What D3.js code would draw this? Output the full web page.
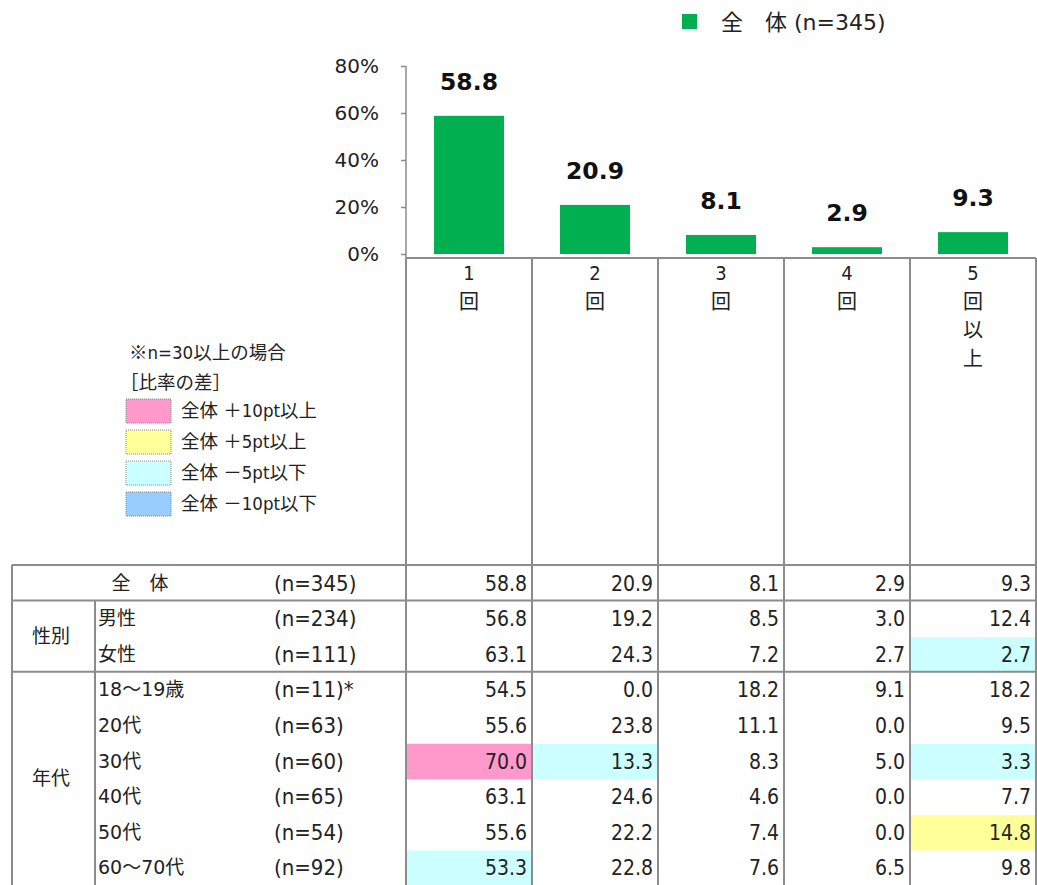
<!DOCTYPE html>
<html>
<head>
<meta charset="utf-8">
<script src="https://cdn.jsdelivr.net/npm/d3@7"></script>
<style>
body { margin: 0; background: #fff; }
svg { display: block; }
text { white-space: pre; }
</style>
</head>
<body>
<div id="canvas"></div>
<script>
const width = 1037;
const height = 885;

// data
const categories = ["1回", "2回", "3回", "4回", "5回以上"];
const totalN = 345;
const totalValues = [58.8, 20.9, 8.1, 2.9, 9.3];
const yTicks = [0, 20, 40, 60, 80];
const groupNames = ["性別", "年代"];
const rowLabels = ["男性", "女性", "18〜19歳", "20代", "30代", "40代", "50代", "60〜70代"];
const rowGroups = ["性別", "性別", "年代", "年代", "年代", "年代", "年代", "年代"];
const rowCounts = [234, 111, 11, 63, 60, 65, 54, 92];
const rowValues = [
    [56.8, 19.2, 8.5, 3.0, 12.4],
    [63.1, 24.3, 7.2, 2.7, 2.7],
    [54.5, 0.0, 18.2, 9.1, 18.2],
    [55.6, 23.8, 11.1, 0.0, 9.5],
    [70.0, 13.3, 8.3, 5.0, 3.3],
    [63.1, 24.6, 4.6, 0.0, 7.7],
    [55.6, 22.2, 7.4, 0.0, 14.8],
    [53.3, 22.8, 7.6, 6.5, 9.8]
];
const legendLabels = ["全体 ＋10pt以上", "全体 ＋5pt以上", "全体 －5pt以下", "全体 －10pt以下"];
const legendColors = ["#ff99cc", "#ffff99", "#ccffff", "#99ccff"];

const narrow = "'DejaVu Sans Condensed', 'Noto Sans CJK JP', sans-serif";
const wide = "'DejaVu Sans', 'Noto Sans CJK JP', sans-serif";
const cjk = "'Noto Sans CJK JP', sans-serif";
const lineColor = "#8c8c8c";

const svg = d3.select("#canvas")
    .append("svg")
    .attr("width", width)
    .attr("height", height);

svg.append("rect")
    .attr("width", width)
    .attr("height", height)
    .attr("fill", "white");

// scales
const x = d3.scaleBand().domain(categories).range([406, 1036]);
const y = d3.scaleLinear().domain([0, 80]).range([254, 66]);
const rowY = d3.scaleBand().domain(d3.range(rowLabels.length + 1)).range([565, 885]);

// top legend
svg.append("rect")
    .attr("x", 682).attr("y", 14)
    .attr("width", 15).attr("height", 15)
    .attr("fill", "#00b050");
svg.append("text")
    .attr("x", 721).attr("y", 30)
    .attr("font-family", wide)
    .attr("font-size", 22)
    .attr("fill", "#222")
    .text("全\u3000体 (n=" + totalN + ")");

// y axis
const yAxis = svg.append("g")
    .attr("transform", "translate(406,0)")
    .call(d3.axisLeft(y).tickValues(yTicks).tickFormat(d => d + "%").tickSize(5).tickPadding(22).tickSizeOuter(0));
yAxis.select(".domain").remove();
yAxis.selectAll(".tick line").attr("stroke", lineColor).attr("stroke-width", 1.5);
yAxis.selectAll(".tick text")
    .attr("font-family", "'DejaVu Sans', sans-serif")
    .attr("font-size", 20)
    .attr("fill", "#222");
svg.append("line")
    .attr("x1", 406).attr("x2", 406)
    .attr("y1", y(80)).attr("y2", 258)
    .attr("stroke", lineColor).attr("stroke-width", 1.5);

// bars
const barW = x.bandwidth() * 0.556;
svg.selectAll(".bar")
    .data(totalValues)
    .join("rect")
    .attr("class", "bar")
    .attr("x", (d, i) => x(categories[i]) + (x.bandwidth() - barW) / 2)
    .attr("y", d => y(d))
    .attr("width", barW)
    .attr("height", d => y(0) - y(d))
    .attr("fill", "#00b050");

svg.selectAll(".barLabel")
    .data(totalValues)
    .join("text")
    .attr("class", "barLabel")
    .attr("x", (d, i) => x(categories[i]) + x.bandwidth() / 2)
    .attr("y", d => y(d) - 26)
    .attr("text-anchor", "middle")
    .attr("font-family", "'DejaVu Sans', sans-serif")
    .attr("font-weight", "bold")
    .attr("font-size", 23.5)
    .attr("fill", "#111")
    .text(d => d.toFixed(1));

// header with category labels written top to bottom
categories.forEach(function(c) {
    Array.from(c).forEach(function(ch, j) {
        svg.append("text")
            .attr("x", x(c) + x.bandwidth() / 2)
            .attr("y", 280 + j * 28.5)
            .attr("text-anchor", "middle")
            .attr("font-family", narrow)
            .attr("font-size", 20)
            .attr("fill", "#222")
            .text(ch);
    });
});

// left legend
const note = svg.append("text")
    .attr("x", 129).attr("y", 359)
    .attr("font-family", narrow).attr("font-size", 18.5).attr("fill", "#222");
note.append("tspan").attr("font-family", cjk).text("※");
note.append("tspan").text("n=30以上の場合");
svg.append("text")
    .attr("x", 120).attr("y", 389)
    .attr("font-family", cjk).attr("font-size", 18.5).attr("fill", "#222")
    .text("［比率の差］");
legendLabels.forEach(function(l, i) {
    svg.append("rect")
        .attr("x", 126).attr("y", 399 + i * 31)
        .attr("width", 45).attr("height", 24)
        .attr("fill", legendColors[i])
        .attr("stroke", "#888")
        .attr("stroke-dasharray", "1,1");
    svg.append("text")
        .attr("x", 181).attr("y", 399 + i * 31 + 18)
        .attr("font-family", narrow).attr("font-size", 18.5).attr("fill", "#222")
        .text(l);
});

// highlight rule
function highlight(v, total, n) {
    if (n < 30) return null;
    const diff = v - total;
    if (diff >= 10) return legendColors[0];
    if (diff >= 5) return legendColors[1];
    if (diff <= -10) return legendColors[3];
    if (diff <= -5) return legendColors[2];
    return null;
}

// table rows: row 0 is total
const tableRows = [{ label: "全\u3000体", n: totalN, values: totalValues }]
    .concat(rowLabels.map((l, i) => ({ label: l, n: rowCounts[i], values: rowValues[i], group: rowGroups[i] })));

tableRows.forEach(function(r, ri) {
    const top = rowY(ri);
    const mid = top + rowY.bandwidth() / 2;
    r.values.forEach(function(v, ci) {
        const fill = ri > 0 ? highlight(v, totalValues[ci], r.n) : null;
        if (fill) {
            svg.append("rect")
                .attr("x", x(categories[ci]))
                .attr("y", top + 1)
                .attr("width", x.bandwidth())
                .attr("height", rowY.bandwidth())
                .attr("fill", fill);
        }
        svg.append("text")
            .attr("x", x(categories[ci]) + x.bandwidth() - 5)
            .attr("y", mid + 8)
            .attr("text-anchor", "end")
            .attr("font-family", narrow)
            .attr("font-size", 21)
            .attr("fill", "#222")
            .text(v.toFixed(1));
    });
    svg.append("text")
        .attr("x", ri === 0 ? 140 : 98)
        .attr("y", mid + 7)
        .attr("text-anchor", ri === 0 ? "middle" : "start")
        .attr("font-family", wide)
        .attr("font-size", 19)
        .attr("fill", "#222")
        .text(r.label);
    svg.append("text")
        .attr("x", 274)
        .attr("y", mid + 8)
        .attr("font-family", narrow)
        .attr("font-size", 22)
        .attr("fill", "#222")
        .text("(n=" + r.n + ")" + (r.n < 30 ? "*" : ""));
});

// group labels
groupNames.forEach(function(g) {
    const idx = rowGroups.map((d, i) => d === g ? i + 1 : -1).filter(i => i >= 0);
    const top = rowY(idx[0]);
    const bottom = rowY(idx[idx.length - 1]) + rowY.bandwidth();
    svg.append("text")
        .attr("x", 51)
        .attr("y", (top + bottom) / 2 + 7)
        .attr("text-anchor", "middle")
        .attr("font-family", cjk)
        .attr("font-size", 19)
        .attr("fill", "#222")
        .text(g);
});

// grid lines
const hLines = [rowY(0), rowY(1), rowY(3)];
hLines.forEach(function(yy) {
    svg.append("line")
        .attr("x1", 12).attr("x2", 1036)
        .attr("y1", yy).attr("y2", yy)
        .attr("stroke", lineColor).attr("stroke-width", 2);
});
svg.append("line")
    .attr("x1", 406).attr("x2", 1036)
    .attr("y1", 258).attr("y2", 258)
    .attr("stroke", lineColor).attr("stroke-width", 2);
categories.forEach(function(c) {
    svg.append("line")
        .attr("x1", x(c)).attr("x2", x(c))
        .attr("y1", 258).attr("y2", height)
        .attr("stroke", lineColor).attr("stroke-width", 2);
});
svg.append("line")
    .attr("x1", 1036).attr("x2", 1036)
    .attr("y1", 258).attr("y2", height)
    .attr("stroke", lineColor).attr("stroke-width", 2);
svg.append("line")
    .attr("x1", 12).attr("x2", 12)
    .attr("y1", rowY(0)).attr("y2", height)
    .attr("stroke", lineColor).attr("stroke-width", 2);
svg.append("line")
    .attr("x1", 95).attr("x2", 95)
    .attr("y1", rowY(1)).attr("y2", height)
    .attr("stroke", lineColor).attr("stroke-width", 2);
</script>
</body>
</html>
